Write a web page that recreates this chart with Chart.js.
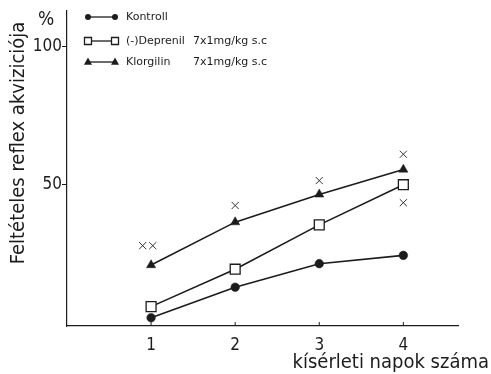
<!DOCTYPE html>
<html>
<head>
<meta charset="utf-8">
<script src="https://cdn.jsdelivr.net/npm/chart.js@4/dist/chart.umd.min.js"></script>
<style>
  html, body { margin: 0; padding: 0; background: #fff; }
  #wrap { width: 491px; height: 374px; }
</style>
</head>
<body>
<div id="wrap"><canvas id="chart" width="491" height="374"></canvas></div>
<script>
// values (% acquisition per day)
var days = [1, 2, 3, 4];
var kontroll = [2, 13, 21.5, 24.5];
var deprenil = [6, 19.5, 35.5, 50];
var klorgilin = [21, 36.5, 46.5, 55.5];
// significance marks (x) above / below points
var sigX = [0.9, 1.02, 2, 3, 4, 4];
var sigY = [28, 28, 42.5, 51.5, 61, 43.5];
var yTicks = [50, 100];

var seriesNames = ['Kontroll', '(-)Deprenil', 'Klorgilin'];
var doses = ['', '7x1mg/kg s.c', '7x1mg/kg s.c'];

var ink = '#1c1c1c';
var fontFam = '"DejaVu Sans Condensed", "Liberation Sans Narrow", "DejaVu Sans", sans-serif';

function pts(ys) {
    return days.map(function (d, i) { return { x: d, y: ys[i] }; });
}

function marker(ctx, style, x, y, r) {
    ctx.beginPath();
    if (style === 'circle') {
        ctx.arc(x, y, r, 0, Math.PI * 2);
        ctx.fillStyle = ink;
        ctx.fill();
    } else if (style === 'rect') {
        ctx.rect(x - r, y - r, 2 * r, 2 * r);
        ctx.fillStyle = '#fff';
        ctx.fill();
        ctx.stroke();
    } else {
        ctx.moveTo(x, y - r * 1.1);
        ctx.lineTo(x + r, y + r * 0.7);
        ctx.lineTo(x - r, y + r * 0.7);
        ctx.closePath();
        ctx.fillStyle = ink;
        ctx.fill();
    }
}

var extras = {
    id: 'extras',
    afterDraw: function (chart) {
        var ctx = chart.ctx;
        var xs = chart.scales.x;
        ctx.save();
        ctx.strokeStyle = ink;
        ctx.fillStyle = ink;
        ctx.lineWidth = 1;
        // small upward ticks on x axis
        days.forEach(function (d) {
            var px = xs.getPixelForValue(d);
            ctx.beginPath();
            ctx.moveTo(px, xs.top);
            ctx.lineTo(px, xs.top - 4);
            ctx.stroke();
        });
        // legend
        var styles = ['circle', 'rect', 'triangle'];
        var rows = [17, 41, 62];
        for (var i = 0; i < 3; i++) {
            var y = rows[i];
            ctx.lineWidth = 1.3;
            ctx.beginPath();
            ctx.moveTo(88, y);
            ctx.lineTo(115, y);
            ctx.stroke();
            var r = styles[i] === 'circle' ? 3 : (styles[i] === 'rect' ? 3.5 : 4);
            marker(ctx, styles[i], 88, y, r);
            marker(ctx, styles[i], 115, y, r);
            ctx.fillStyle = ink;
            ctx.font = '11px "DejaVu Sans", sans-serif';
            ctx.textBaseline = 'middle';
            ctx.textAlign = 'left';
            ctx.fillText(seriesNames[i], 126, y);
            if (doses[i]) ctx.fillText(doses[i], 193, y);
        }
        // axis titles
        ctx.font = '20px ' + fontFam;
        ctx.textBaseline = 'middle';
        ctx.textAlign = 'center';
        ctx.save();
        ctx.translate(19, 143);
        ctx.rotate(-Math.PI / 2);
        ctx.fillText('Feltételes reflex akviziciója', 0, 0);
        ctx.restore();
        ctx.font = '19px ' + fontFam;
        ctx.fillText('%', 46, 20);
        ctx.textAlign = 'right';
        ctx.textBaseline = 'alphabetic';
        ctx.font = '20px ' + fontFam;
        ctx.fillText('kísérleti napok száma', 489, 368);
        ctx.restore();
    }
};

var ctx = document.getElementById('chart').getContext('2d');
var chart = new Chart(ctx, {
    type: 'scatter',
    data: {
        datasets: [{
            label: seriesNames[0],
            data: pts(kontroll),
            showLine: true,
            borderColor: ink,
            borderWidth: 1.6,
            pointStyle: 'circle',
            pointRadius: 4.3,
            pointBorderWidth: 0.5,
            pointBackgroundColor: ink,
            pointBorderColor: ink
        }, {
            label: seriesNames[1],
            data: pts(deprenil),
            showLine: true,
            borderColor: ink,
            borderWidth: 1.6,
            pointStyle: 'rect',
            pointRadius: 7,
            pointBorderWidth: 1.3,
            pointBackgroundColor: '#fff',
            pointBorderColor: ink
        }, {
            label: seriesNames[2],
            data: pts(klorgilin),
            showLine: true,
            borderColor: ink,
            borderWidth: 1.6,
            pointStyle: 'triangle',
            pointRadius: 5.3,
            pointBorderWidth: 0.5,
            pointBackgroundColor: ink,
            pointBorderColor: ink
        }, {
            label: 'sig',
            data: sigX.map(function (x, i) { return { x: x, y: sigY[i] }; }),
            showLine: false,
            pointStyle: 'crossRot',
            pointRadius: 5,
            pointBorderWidth: 1,
            pointBorderColor: '#333'
        }]
    },
    options: {
        responsive: false,
        animation: false,
        events: [],
        layout: { padding: { top: 5, right: 33, left: 0, bottom: 0 } },
        plugins: { legend: { display: false }, tooltip: { enabled: false } },
        scales: {
            x: {
                type: 'linear',
                min: 0,
                max: 4.65,
                afterBuildTicks: function (s) { s.ticks = days.map(function (v) { return { value: v }; }); },
                afterFit: function (s) { s.height = 48; },
                grid: { display: true, drawOnChartArea: false, drawTicks: false },
                border: { color: ink, width: 1.2 },
                ticks: { color: ink, padding: 9, font: { family: fontFam, size: 17 } }
            },
            y: {
                min: -1,
                max: 113,
                afterBuildTicks: function (s) { s.ticks = yTicks.map(function (v) { return { value: v }; }); },
                afterFit: function (s) { s.width = 67; },
                grid: { display: true, drawOnChartArea: false, drawTicks: true, tickLength: 5, color: ink },
                border: { color: ink, width: 1.2 },
                ticks: { color: ink, padding: 0, font: { family: fontFam, size: 17 } }
            }
        }
    },
    plugins: [extras]
});
</script>
</body>
</html>
